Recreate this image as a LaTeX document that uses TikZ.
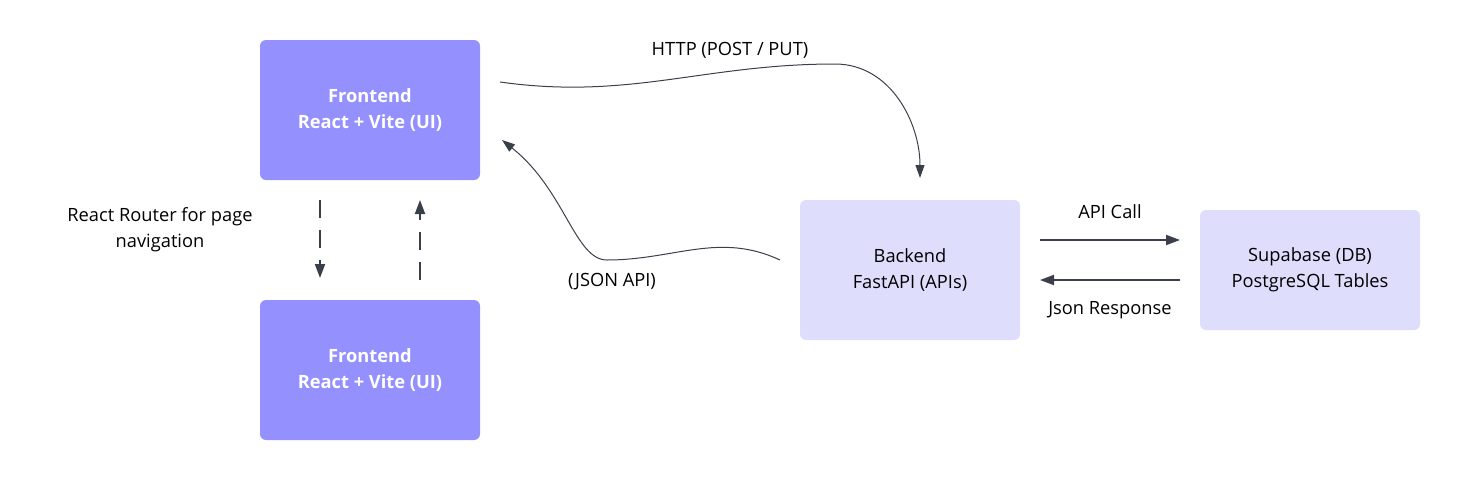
\documentclass[tikz,border=0pt]{standalone}
\usepackage{fontspec}
\setmainfont{Open Sans}
\usetikzlibrary{arrows.meta}
\definecolor{morado}{RGB}{148,145,255}
\definecolor{lila}{RGB}{222,221,252}
\definecolor{gris}{RGB}{58,63,74}
\begin{document}
\begin{tikzpicture}

	%DEFINICIONES
	\tikzstyle{every node}=[font=\fontsize{10.4}{14.8}\selectfont]
	\tikzstyle{base} = [align=center, rounded corners=0.12cm, minimum width=4.4cm, minimum height=2.8cm, outer sep=0pt]
	\tikzstyle{front} = [base, fill=morado, text=white, font=\fontsize{10.4}{14.8}\selectfont\bfseries]
	\tikzstyle{back} = [base, fill=lila]
	\tikzstyle{blank} = [align=center, inner sep=0pt, outer sep=0pt]
	\tikzstyle{flecha} = [-{Triangle[length=0.28cm,width=0.2cm]}, line width=0.4mm, color=gris]
	\tikzstyle{curva} = [-{Triangle[length=0.26cm,width=0.18cm]}, line width=0.2mm, color=gris]
	\tikzstyle{raya} = [flecha, dash pattern=on 0.36cm off 0.24cm]

	\useasboundingbox (0,0) rectangle (29.2,9.6);

	%BLOQUES
	\draw(7.4,7.4) node[front](1){Frontend\\React + Vite (UI)};
	\draw(7.4,2.2) node[front](2){Frontend\\React + Vite (UI)};
	\draw(18.2,4.2) node[back](3){Backend\\FastAPI (APIs)};
	\draw(26.2,4.2) node[back, minimum height=2.4cm](4){Supabase (DB)\\PostgreSQL Tables};

	%TEXTOS
	\draw(14.6,8.6) node[blank](5){HTTP (POST / PUT)};
	\draw(12.24,3.96) node[blank](6){(JSON API)};
	\draw(22.2,5.36) node[blank](7){API Call};
	\draw(22.2,3.4) node[blank](8){Json Response};
	\draw(3.2,5.0) node[blank](9){React Router for page\\navigation};

	%PUNTOS DE LAS CURVAS
	\coordinate (a) at ([xshift=0.4cm, yshift=0.56cm]1.east);
	\coordinate (b) at (16.7,8.32);
	\coordinate (c) at ([xshift=0.2cm, yshift=0.44cm]3.north);
	\coordinate (d) at ([xshift=-0.4cm, yshift=0.2cm]3.west);
	\coordinate (e) at (12.14,4.4);
	\coordinate (f) at ([xshift=0.44cm, yshift=-0.6cm]1.east);

	%FLECHAS
	\draw [curva] (a) to[out=-8,in=180] (b) to[out=0,in=90] (c);	%HTTP
	\draw [curva] (d) to[out=155,in=0] (e) .. controls (11.5,4.4) and (11.3,5.8) .. (f);	%JSON
	\draw [flecha] ([xshift=0.4cm,yshift=0.6cm]3.east) -- ([xshift=-0.4cm,yshift=0.6cm]4.west);
	\draw [flecha] ([xshift=-0.4cm,yshift=-0.2cm]4.west) -- ([xshift=0.4cm,yshift=-0.2cm]3.east);

	\draw [raya] ([xshift=-1cm,yshift=-0.4cm]1.south) -- ([xshift=-1cm,yshift=0.44cm]2.north);	%BAJADA
	\draw [raya] ([xshift=1cm,yshift=0.4cm]2.north) -- ([xshift=1cm,yshift=-0.4cm]1.south);	%SUBIDA
\end{tikzpicture}
\end{document}
